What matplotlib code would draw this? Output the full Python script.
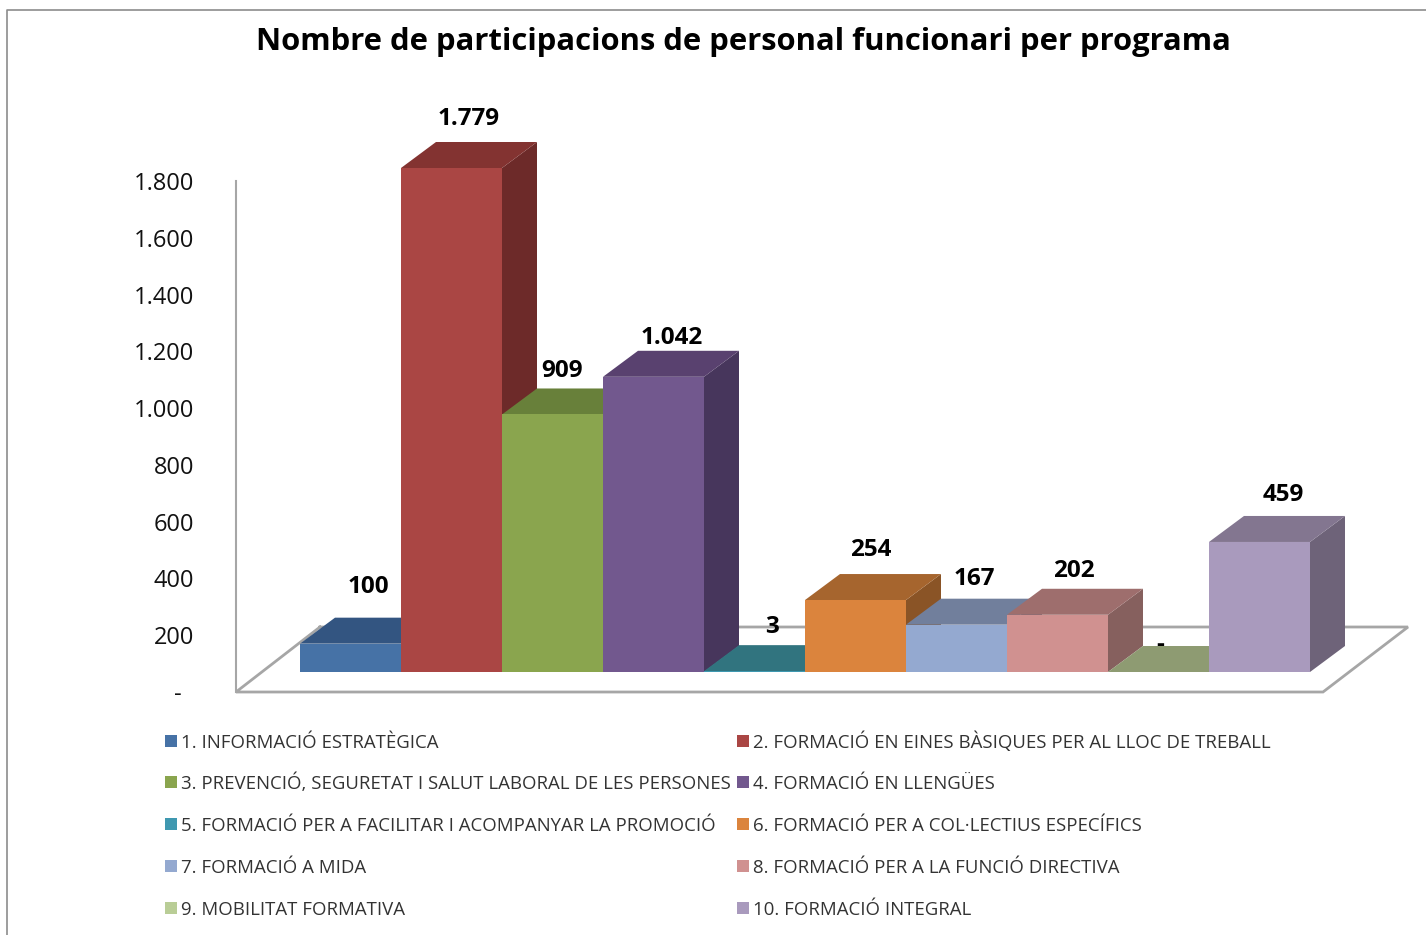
import matplotlib
matplotlib.use('Agg')
import matplotlib.pyplot as plt
from matplotlib.patches import Polygon, Rectangle
from matplotlib.lines import Line2D
from matplotlib.ticker import FuncFormatter

plt.rcParams['font.family'] = ['Open Sans', 'DejaVu Sans']

# Dades
programes = [
    '1. INFORMACIÓ ESTRATÈGICA',
    '2. FORMACIÓ EN EINES BÀSIQUES PER AL LLOC DE TREBALL',
    '3. PREVENCIÓ, SEGURETAT I SALUT LABORAL DE LES PERSONES',
    '4. FORMACIÓ EN LLENGÜES',
    '5. FORMACIÓ PER A FACILITAR I ACOMPANYAR LA PROMOCIÓ',
    '6. FORMACIÓ PER A COL·LECTIUS ESPECÍFICS',
    '7. FORMACIÓ A MIDA',
    '8. FORMACIÓ PER A LA FUNCIÓ DIRECTIVA',
    '9. MOBILITAT FORMATIVA',
    '10. FORMACIÓ INTEGRAL',
]
participacions = [100, 1779, 909, 1042, 3, 254, 167, 202, 0, 459]
valors_eix = [0, 200, 400, 600, 800, 1000, 1200, 1400, 1600, 1800]

# Colors de cada cara
c_front = ['#4672a6', '#aa4644', '#8aa54e', '#72588e', '#3f98b0',
           '#db843d', '#94a9d0', '#d09190', '#b9cd96', '#a99abd']
c_top = ['#335581', '#833331', '#68803a', '#59416f', '#31747f',
         '#a6652e', '#717f9c', '#9e6e6d', '#8e9b72', '#837690']
c_side = ['#2c4a70', '#6d2a29', '#566a30', '#47365c', '#29606c',
          '#8a5426', '#5e6982', '#86605e', '#76815f', '#6e6379']
c_eix = '#a6a6a6'

W, H = 1426, 935
fig = plt.figure(figsize=(W / 100, H / 100), dpi=100)

# Marc exterior
fig.add_artist(Line2D([7 / W, 7 / W, 1], [0, 1 - 10 / H, 1 - 10 / H], color='#8c8c8c', lw=1.2))

# Eix principal a tota la figura: una barra fa 101 px
px_cat = 101.0
px_val = 504 / 1779
base_px = 672
ax = fig.add_axes([0, 0, 1, 1])
ax.set_xlim(-300 / px_cat - 0.5, (W - 300) / px_cat - 0.5)
ax.set_ylim(-(H - base_px) / px_val, base_px / px_val)
ax.axis('off')

# Profunditat de la perspectiva
dx = 35 / px_cat
dy = 26 / px_val

# Terra
terra_y0 = -20 / px_val
terra_y1 = 45 / px_val
x_a = (236 - 300) / px_cat - 0.5
x_b = (1323 - 300) / px_cat - 0.5
x_c = (1408 - 300) / px_cat - 0.5
x_d = (320 - 300) / px_cat - 0.5
ax.plot([x_d, x_a, x_b, x_c, x_d], [terra_y1, terra_y0, terra_y0, terra_y1, terra_y1],
        color=c_eix, lw=2, zorder=1, solid_joinstyle='miter')

# Barres d'esquerra a dreta
for i, v in enumerate(participacions):
    z = 2 + i
    ax.add_patch(Polygon([(i + 0.5, 0), (i + 0.5 + dx, dy), (i + 0.5 + dx, v + dy), (i + 0.5, v)],
                         facecolor=c_side[i], edgecolor='none', zorder=z))
    ax.add_patch(Polygon([(i - 0.5, v), (i - 0.5 + dx, v + dy), (i + 0.5 + dx, v + dy), (i + 0.5, v)],
                         facecolor=c_top[i], edgecolor='none', zorder=z))
    ax.bar(i, v, width=1.0, color=c_front[i], zorder=z)

# Etiquetes de dades (ajust manual en px)
ajust_x = [0, 0, -8, 1, 0, -2, 0, -1, -16, 6]
ajust_y = [31, 23, 17, 13, 18, 24, 20, 18, 1, 21]
for i, v in enumerate(participacions):
    text = f'{v:,}'.replace(',', '.') if v else '-'
    ax.annotate(text, (i + dx / 2, v + dy), xytext=(ajust_x[i] * 0.72, ajust_y[i] * 0.72),
                textcoords='offset points', ha='center', va='center',
                fontsize=17.5, fontweight='bold', color='black', zorder=20)

# Eix de valors
ax_val = fig.add_axes([236 / W, (H - 692) / H, 0.001, 511 / H])
ax_val.patch.set_alpha(0)
ax_val.set_ylim(0, 1800)
ax_val.set_xticks([])
ax_val.set_yticks(valors_eix)
ax_val.yaxis.set_major_formatter(FuncFormatter(lambda v, _: f'{int(v):,}'.replace(',', '.') if v else '-  '))
ax_val.tick_params(axis='y', length=0, pad=30, labelsize=17, labelcolor='#111111')
for s in ['top', 'right', 'bottom']:
    ax_val.spines[s].set_visible(False)
ax_val.spines['left'].set_color(c_eix)
ax_val.spines['left'].set_linewidth(1.5)

fig.text(743 / W, 1 - 42 / H, 'Nombre de participacions de personal funcionari per programa',
         ha='center', va='center', fontsize=22.3, fontweight='bold', color='black')

# Llegenda en dues columnes, llegida per files
files_px = [741, 782, 824, 866, 908]
columnes_px = [165, 737]
for k, nom in enumerate(programes):
    fila = files_px[k // 2]
    col = columnes_px[k % 2]
    fig.add_artist(Rectangle((col / W, 1 - (fila + 6) / H), 12 / W, 12 / H,
                             facecolor=c_front[k], edgecolor='none'))
    fig.text((col + 16) / W, 1 - (fila + 7) / H, nom, ha='left', va='baseline',
             fontsize=13.4, color='#333333')

fig.savefig('out.png', dpi=100)
